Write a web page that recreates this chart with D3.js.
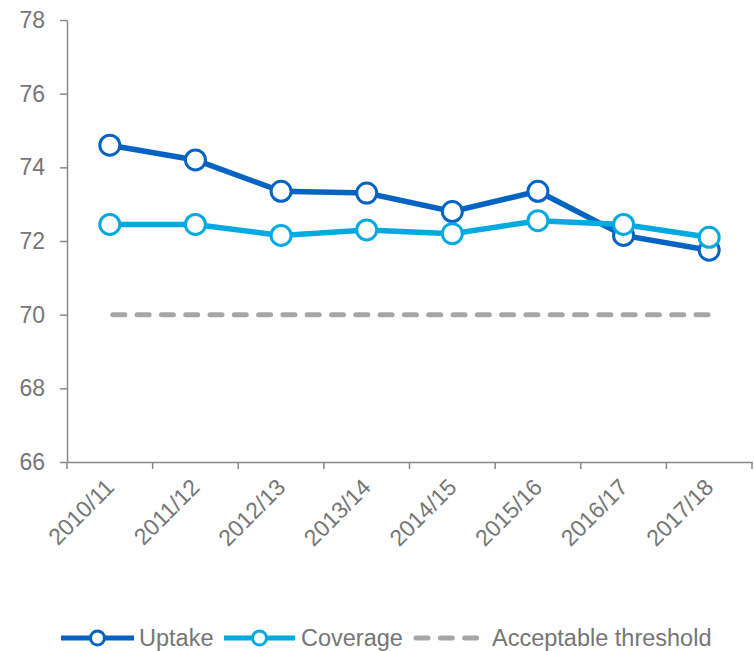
<!DOCTYPE html>
<meta charset="utf-8">
<title>Uptake and coverage</title>
<script src="https://cdn.jsdelivr.net/npm/d3@7"></script>
<style>
  body { margin: 0; background: #fff; }
  svg { font-family: "Liberation Sans", Arial, sans-serif; }
  .axis path, .axis line { stroke: #898989; stroke-width: 1.5; }
  .axis text { fill: #767676; }
</style>
<body>
<script>

var years = ["2010/11", "2011/12", "2012/13", "2013/14", "2014/15", "2015/16", "2016/17", "2017/18"];
var uptake = [74.6, 74.2, 73.35, 73.3, 72.8, 73.35, 72.15, 71.75];
var coverage = [72.45, 72.45, 72.15, 72.3, 72.2, 72.55, 72.45, 72.1];
var threshold = [70, 70, 70, 70, 70, 70, 70, 70];
var yTicks = [66, 68, 70, 72, 74, 76, 78];

var w = 754, h = 651;
var svg = d3.select("body").append("svg")
    .attr("width", w)
    .attr("height", h);

var x = d3.scaleBand().domain(years).range([67, 752]);
var y = d3.scaleLinear().domain([66, 78]).range([462, 20]);
var cx = function (d, i) { return x(years[i]) + x.bandwidth() / 2 };

// axes
svg.append("g")
    .attr("class", "axis")
    .attr("transform", "translate(67,0)")
    .call(d3.axisLeft(y).tickValues(yTicks).tickSize(7).tickPadding(15).tickSizeOuter(0))
    .selectAll("text")
    .style("font-size", "23px");

var xa = svg.append("g")
    .attr("class", "axis")
    .attr("transform", "translate(0,462)")
    .call(d3.axisBottom(x).tickSize(0).tickSizeOuter(0));
xa.selectAll(".tick line").remove();
// ticks sit on the band edges
xa.selectAll(".edge")
    .data(d3.range(years.length + 1))
    .enter().append("line")
    .attr("x1", function (d) { return 67 + d * x.bandwidth() })
    .attr("x2", function (d) { return 67 + d * x.bandwidth() })
    .attr("y1", 0).attr("y2", 7);
xa.selectAll(".tick text")
    .style("font-size", "23px")
    .style("text-anchor", "end")
    .attr("y", 0)
    .attr("dy", "0.35em")
    .attr("transform", "translate(0,21) rotate(-45)");

// threshold
svg.append("path")
    .datum(threshold)
    .attr("fill", "none")
    .attr("stroke", "#a6a6a6")
    .attr("stroke-width", 5)
    .attr("stroke-linecap", "round")
    .attr("stroke-dasharray", "12,12.3")
    .attr("transform", "translate(3,0)")
    .attr("d", d3.line().x(cx).y(function (d) { return y(d) }));

var series = [
  { name: "Uptake", values: uptake, color: "#0563c1" },
  { name: "Coverage", values: coverage, color: "#00a9e0" }
];

series.forEach(function (s) {
  svg.append("path")
      .datum(s.values)
      .attr("fill", "none")
      .attr("stroke", s.color)
      .attr("stroke-width", 5.5)
      .attr("d", d3.line().x(cx).y(function (d) { return y(d) }));
  svg.selectAll(null)
      .data(s.values)
      .enter().append("circle")
      .attr("cx", cx)
      .attr("cy", function (d) { return y(d) })
      .attr("r", 10)
      .attr("fill", "#fff")
      .attr("stroke", s.color)
      .attr("stroke-width", 3);
});

// legend
var ly = 638;
var legend = [
  { name: "Uptake", color: "#0563c1", x0: 61, x1: 134, tx: 139, marker: true },
  { name: "Coverage", color: "#00a9e0", x0: 224, x1: 295, tx: 301, marker: true },
  { name: "Acceptable threshold", color: "#a6a6a6", x0: 416, x1: 480, tx: 492, marker: false }
];
legend.forEach(function (l) {
  var g = svg.append("g");
  g.append("line")
      .attr("x1", l.x0).attr("x2", l.x1)
      .attr("y1", ly).attr("y2", ly)
      .attr("stroke", l.color)
      .attr("stroke-width", 5)
      .attr("stroke-linecap", l.marker ? "butt" : "round")
      .attr("stroke-dasharray", l.marker ? null : "12,12.3");
  if (l.marker) {
    g.append("circle")
        .attr("cx", (l.x0 + l.x1) / 2).attr("cy", ly)
        .attr("r", 7)
        .attr("fill", "#fff")
        .attr("stroke", l.color)
        .attr("stroke-width", 3);
  }
  g.append("text")
      .attr("x", l.tx).attr("y", ly)
      .attr("dy", "0.35em")
      .style("font-size", "23.5px")
      .attr("fill", "#767676")
      .text(l.name);
});

</script>
</body>
